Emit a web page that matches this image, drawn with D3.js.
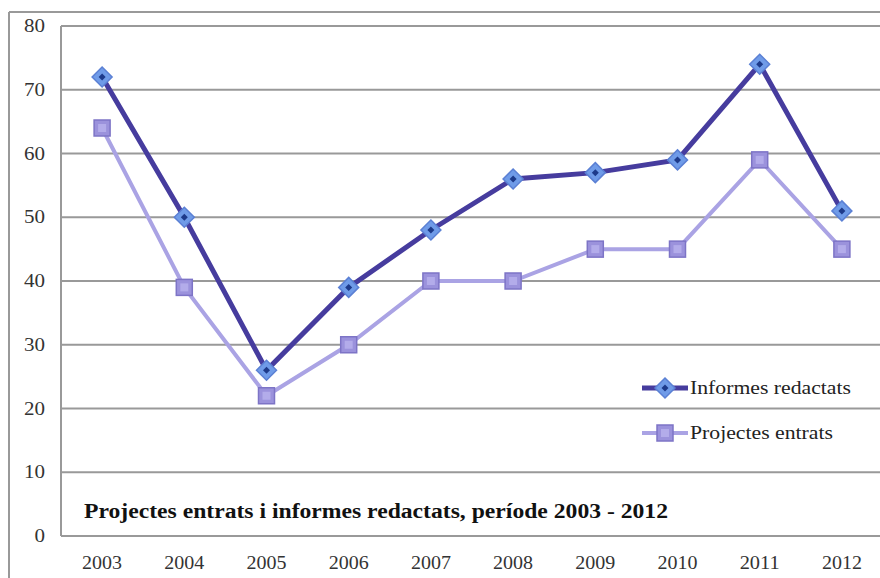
<!DOCTYPE html>
<html>
<head>
<meta charset="utf-8">
<script src="https://cdn.jsdelivr.net/npm/d3@7.9.0/dist/d3.min.js"></script>
<style>
  body { margin: 0; background: #fff; }
  svg { display: block; font-family: "Liberation Serif", "DejaVu Serif", serif; }
</style>
</head>
<body>
<svg width="880" height="578"></svg>
<script>
// chart data
const years = ['2003', '2004', '2005', '2006', '2007', '2008', '2009', '2010', '2011', '2012'];
const informes = [72, 50, 26, 39, 48, 56, 57, 59, 74, 51];
const projectes = [64, 39, 22, 30, 40, 40, 45, 45, 59, 45];
const yTicks = [0, 10, 20, 30, 40, 50, 60, 70, 80];

const svg = d3.select('svg');
const plotLeft = 61, plotRight = 883, plotTop = 26, plotBottom = 536;

let x = d3.scaleBand().domain(years).range([plotLeft, plotRight]);
let y = d3.scaleLinear().domain([0, 80]).range([plotBottom, plotTop]);
const cx = (d) => x(d) + x.bandwidth() / 2;

// outer frame
svg.append('line').attr('x1', 9).attr('x2', 880).attr('y1', 12).attr('y2', 12)
  .attr('stroke', '#999').attr('stroke-width', 2);
svg.append('line').attr('x1', 9).attr('x2', 9).attr('y1', 12).attr('y2', 578)
  .attr('stroke', '#999').attr('stroke-width', 2);

// gridlines + y labels
yTicks.forEach((t) => {
  svg.append('line')
    .attr('x1', plotLeft).attr('x2', 880)
    .attr('y1', y(t)).attr('y2', y(t))
    .attr('stroke', '#999').attr('stroke-width', 2);
  svg.append('text')
    .attr('x', 45).attr('y', y(t) + 6)
    .attr('text-anchor', 'end')
    .attr('font-size', 18).attr('fill', '#333')
    .attr('textLength', String(t).length * 10.5).attr('lengthAdjust', 'spacingAndGlyphs')
    .text(t);
});
svg.append('line').attr('x1', plotLeft).attr('x2', plotLeft).attr('y1', plotTop).attr('y2', plotBottom)
  .attr('stroke', '#999').attr('stroke-width', 2);

// x labels
years.forEach((yr) => {
  svg.append('text')
    .attr('x', cx(yr)).attr('y', 569)
    .attr('text-anchor', 'middle')
    .attr('font-size', 18).attr('fill', '#333')
    .attr('textLength', 40).attr('lengthAdjust', 'spacingAndGlyphs')
    .text(yr);
});

// series
const dark = '#463c9e', light = '#aaa3e4';
let line = d3.line().x((d, i) => cx(years[i])).y((d) => y(d));

svg.append('path').datum(projectes).attr('d', line)
  .attr('fill', 'none').attr('stroke', light).attr('stroke-width', 4);
svg.append('path').datum(informes).attr('d', line)
  .attr('fill', 'none').attr('stroke', dark).attr('stroke-width', 5);

function square(g, px, py) {
  g.append('rect').attr('x', px - 8).attr('y', py - 8).attr('width', 16).attr('height', 16)
    .attr('fill', '#9b92dc').attr('stroke', '#7d74c6').attr('stroke-width', 1.5);
  g.append('rect').attr('x', px - 4).attr('y', py - 4).attr('width', 8).attr('height', 8)
    .attr('fill', '#b3acea');
}
function diamond(g, px, py) {
  g.append('path')
    .attr('d', `M${px},${py - 10}L${px + 10},${py}L${px},${py + 10}L${px - 10},${py}Z`)
    .attr('fill', '#6f9be8').attr('stroke', '#5b80d4').attr('stroke-width', 1.5);
  g.append('path')
    .attr('d', `M${px},${py - 3.5}L${px + 3.5},${py}L${px},${py + 3.5}L${px - 3.5},${py}Z`)
    .attr('fill', '#1d3a8a');
}

projectes.forEach((v, i) => square(svg, cx(years[i]), y(v)));
informes.forEach((v, i) => diamond(svg, cx(years[i]), y(v)));

// legend
const legend = [
  { label: 'Informes redactats', color: dark, w: 5, mark: diamond, ly: 388, len: 161 },
  { label: 'Projectes entrats', color: light, w: 4, mark: square, ly: 433, len: 143 },
];
legend.forEach((d) => {
  svg.append('line').attr('x1', 642).attr('x2', 688).attr('y1', d.ly).attr('y2', d.ly)
    .attr('stroke', d.color).attr('stroke-width', d.w);
  d.mark(svg, 665, d.ly);
  svg.append('text').attr('x', 690).attr('y', d.ly + 6)
    .attr('font-size', 19).attr('fill', '#222')
    .attr('textLength', d.len).attr('lengthAdjust', 'spacingAndGlyphs')
    .text(d.label);
});

// title inside plot
svg.append('text')
  .attr('x', 84).attr('y', 518)
  .attr('font-size', 20).attr('font-weight', 'bold').attr('fill', '#111')
  .attr('textLength', 584).attr('lengthAdjust', 'spacingAndGlyphs')
  .text('Projectes entrats i informes redactats, període 2003 - 2012');
</script>
</body>
</html>
